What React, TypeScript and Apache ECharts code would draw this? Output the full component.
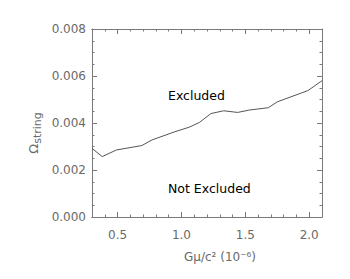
import React, { useEffect, useRef } from "react";
import * as echarts from "echarts";

const gmu = [0.30, 0.38, 0.49, 0.69, 0.77, 0.95, 1.06, 1.14, 1.23, 1.33, 1.44, 1.53, 1.68, 1.75, 1.99, 2.10];
const omega = [0.00292, 0.00257, 0.00285, 0.00304, 0.00328, 0.00363, 0.00382, 0.00402, 0.00440, 0.00452, 0.00445, 0.00455, 0.00465, 0.00490, 0.00538, 0.00580];
const xMajorTicks = [0.5, 1.0, 1.5, 2.0];
const xMinorTicks = [0.3, 0.4, 0.6, 0.7, 0.8, 0.9, 1.1, 1.2, 1.3, 1.4, 1.6, 1.7, 1.8, 1.9, 2.1];
const regionLabels = ["Excluded", "Not Excluded"];

const AX = "#7a7a7a";
const FONT = "DejaVu Sans";

export default function App() {
  const ref = useRef<HTMLDivElement>(null);
  useEffect(() => {
    if (!ref.current) return;
    const chart = echarts.init(ref.current, null, { renderer: "svg" });
    const xBase = (pos: "bottom" | "top", ticks: number[], len: number, labels: boolean) => ({
      type: "value",
      position: pos,
      min: 0.3,
      max: 2.1,
      axisLine: { show: true, onZero: false, lineStyle: { color: AX, width: 1 } },
      axisTick: { show: true, inside: true, length: len, customValues: ticks, lineStyle: { color: AX } },
      axisLabel: labels
        ? { show: true, customValues: ticks, color: "#6a6a6a", fontFamily: FONT, fontSize: 12, margin: 12, formatter: (v: number) => v.toFixed(1) }
        : { show: false },
      splitLine: { show: false },
    });
    const yBase = (pos: "left" | "right", labels: boolean) => ({
      type: "value",
      position: pos,
      min: 0,
      max: 0.008,
      interval: 0.002,
      axisLine: { show: true, onZero: false, lineStyle: { color: AX, width: 1 } },
      axisTick: { show: true, inside: true, length: 5, lineStyle: { color: AX } },
      minorTick: { show: true, splitNumber: 4, length: 2.5, lineStyle: { color: AX } },
      axisLabel: labels
        ? { show: true, color: "#6a6a6a", fontFamily: FONT, fontSize: 12, margin: 6, formatter: (v: number) => v.toFixed(3) }
        : { show: false },
      splitLine: { show: false },
    });
    chart.setOption({
      animation: false,
      backgroundColor: "#ffffff",
      grid: { left: 92, top: 29, width: 230, height: 188, containLabel: false },
      xAxis: [
        xBase("bottom", xMajorTicks, 5, true),
        xBase("top", xMajorTicks, 5, false),
        xBase("bottom", xMinorTicks, 2.5, false),
        xBase("top", xMinorTicks, 2.5, false),
      ],
      yAxis: [yBase("left", true), yBase("right", false)],
      series: [
        {
          type: "line",
          data: gmu.map((g, i) => [g, omega[i]]),
          xAxisIndex: 0,
          yAxisIndex: 0,
          showSymbol: false,
          lineStyle: { color: "#555555", width: 1 },
        },
      ],
      graphic: [
        {
          type: "text",
          left: 168,
          top: 89,
          style: { text: regionLabels[0], fill: "#000", font: `12.5px ${FONT}` },
        },
        {
          type: "text",
          left: 168,
          top: 182,
          style: { text: regionLabels[1], fill: "#000", font: `12.5px ${FONT}` },
        },
        {
          type: "text",
          x: 220,
          y: 257,
          style: {
            text: "Gμ/c² (10⁻⁶)",
            fill: "#6a6a6a",
            font: `12px ${FONT}`,
            align: "center",
            verticalAlign: "middle",
          },
        },
        {
          type: "text",
          x: 33,
          y: 133,
          rotation: Math.PI / 2,
          style: {
            text: "{o|Ω}{s|string}",
            align: "center",
            verticalAlign: "middle",
            rich: {
              o: { fill: "#6a6a6a", font: `13px ${FONT}`, verticalAlign: "middle" },
              s: { fill: "#6a6a6a", font: `11px ${FONT}`, padding: [8, 0, 0, 0] },
            },
          },
        },
      ],
    });
    return () => chart.dispose();
  }, []);
  return (
    <div
      ref={ref}
      style={{ position: "absolute", left: 0, top: 0, width: 350, height: 279 }}
    />
  );
}
